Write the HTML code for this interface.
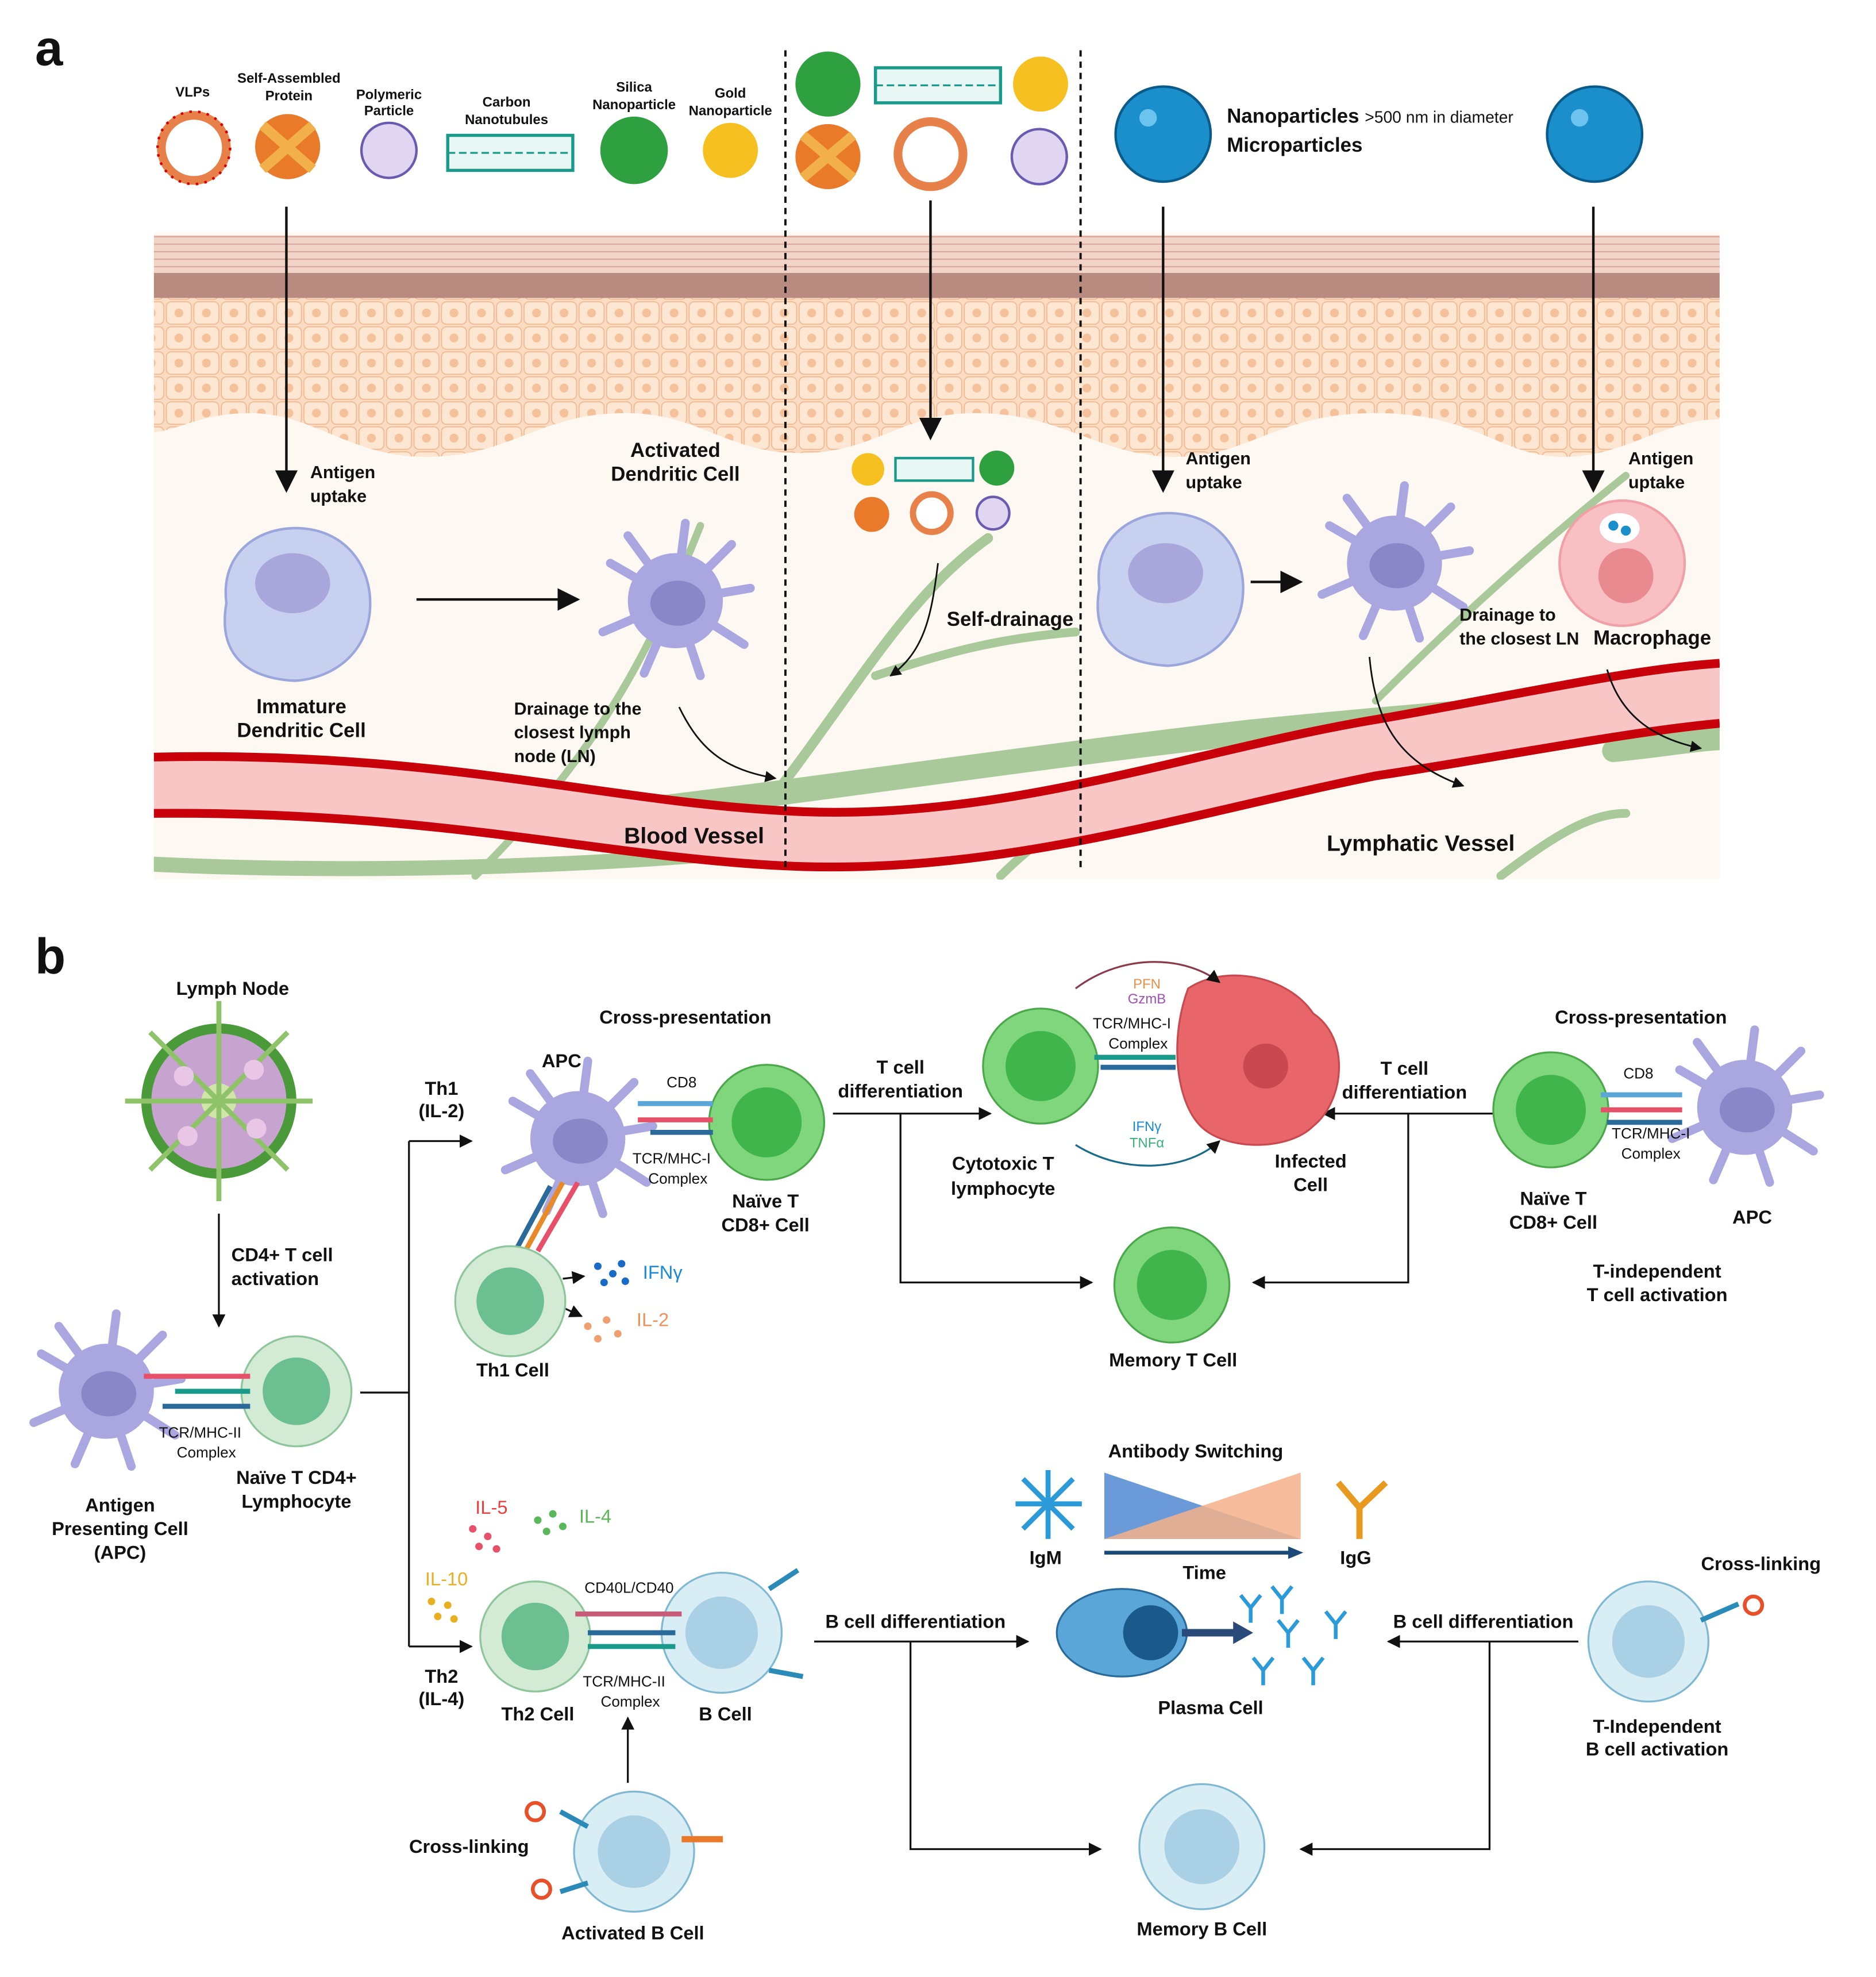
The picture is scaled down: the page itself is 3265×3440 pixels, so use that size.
<!DOCTYPE html>
<html><head><meta charset="utf-8"><style>
html,body{margin:0;padding:0;background:#fff;}
svg{display:block;}
text{font-family:"Liberation Sans",sans-serif;font-weight:bold;fill:#111;}
.n{font-weight:normal;}
</style></head><body>
<svg width="3265" height="3440" viewBox="0 0 1500 1580" xmlns="http://www.w3.org/2000/svg">
<defs>
<marker id="ar" viewBox="0 0 10 10" refX="9" refY="5" markerWidth="7" markerHeight="7" orient="auto"><path d="M0,0L10,5L0,10z" fill="#111"/></marker>
<marker id="as" viewBox="0 0 10 10" refX="9" refY="5" markerWidth="9" markerHeight="9" orient="auto"><path d="M0,0L10,5L0,10z" fill="#111"/></marker>
<clipPath id="pa"><rect x="123" y="185" width="1252" height="518"/></clipPath>
<pattern id="cells" width="22" height="20" patternUnits="userSpaceOnUse"><rect width="22" height="20" fill="#fbdcc2"/><rect x="1" y="1" width="20" height="18" rx="4" fill="#fde6d2" stroke="#f0b890" stroke-width="0.8"/><circle cx="11" cy="10" r="3.5" fill="#f5c19a"/></pattern>
<pattern id="strip" width="30" height="6" patternUnits="userSpaceOnUse"><rect width="30" height="6" fill="#f2d3c8"/><line x1="0" y1="3" x2="30" y2="3" stroke="#d9a89a" stroke-width="1"/></pattern>
<g id="dc"><g stroke="#a9a6e0" stroke-width="7" stroke-linecap="round"><line x1="0" y1="0" x2="-52" y2="-30"/><line x1="0" y1="0" x2="-38" y2="-52"/><line x1="0" y1="0" x2="8" y2="-62"/><line x1="0" y1="0" x2="45" y2="-45"/><line x1="0" y1="0" x2="60" y2="-10"/><line x1="0" y1="0" x2="55" y2="35"/><line x1="0" y1="0" x2="20" y2="60"/><line x1="0" y1="0" x2="-25" y2="58"/><line x1="0" y1="0" x2="-58" y2="25"/></g><circle r="38" fill="#a9a6e0"/><ellipse cx="2" cy="2" rx="22" ry="18" fill="#8a86c8"/></g>
<g id="tc"><circle r="46" fill="#7fd67c" stroke="#4aa84a" stroke-width="1.5"/><circle r="28" fill="#3fb54c"/></g>
<g id="lt"><circle r="44" fill="#d3ead5" stroke="#8fc59a" stroke-width="1.5"/><circle r="27" fill="#6cbf90"/></g>
<g id="bc"><circle r="48" fill="#d9edf5" stroke="#7fb8d2" stroke-width="1.5"/><circle r="29" fill="#a9d0e4"/></g>
<g id="ab"><path d="M0,12 V0 L-8,-10 M0,0 L8,-10" stroke="#2a9ad8" stroke-width="3" fill="none"/></g>
</defs>

<text x="28" y="52" font-size="40">a</text>
<text x="28" y="778" font-size="40">b</text>

<g clip-path="url(#pa)">
<rect x="123" y="185" width="1252" height="518" fill="#fdf8f2"/>
<rect x="123" y="188" width="1252" height="30" fill="url(#strip)"/>
<rect x="123" y="218" width="1252" height="20" fill="#b88a80"/>
<path d="M123,238 H1375 V335 C1330,335 1300,365 1250,365 C1200,365 1180,330 1100,330 C1020,330 1000,365 940,365 C880,365 850,330 780,330 C720,330 700,362 640,362 C580,362 560,330 500,330 C430,330 410,365 340,365 C280,365 250,330 200,330 C160,330 140,345 123,345Z" fill="url(#cells)"/>
<g stroke="#a9c99a" fill="none" stroke-linecap="round">
<path d="M380,700 C480,600 520,520 560,420" stroke-width="6"/>
<path d="M600,660 C680,560 720,480 790,430" stroke-width="8"/>
<path d="M400,660 C600,640 780,610 1000,585 C1200,565 1300,560 1375,560" stroke-width="20"/>
<path d="M700,540 C760,520 800,510 860,505" stroke-width="7"/>
<path d="M1100,560 C1180,480 1250,420 1300,380" stroke-width="6"/>
<path d="M800,700 C830,670 860,650 900,640" stroke-width="7"/>
<path d="M1200,700 C1240,670 1270,650 1300,650" stroke-width="7"/>
<path d="M110,690 C300,700 500,690 600,680" stroke-width="12"/>
<path d="M1290,600 C1340,595 1360,590 1390,590" stroke-width="18"/>
</g>
<path d="M123,605 C350,600 480,640 628,648 C800,658 950,600 1100,575 C1200,558 1300,535 1375,530 L1375,578 C1300,585 1200,605 1100,620 C950,650 800,700 628,692 C480,685 350,648 123,650Z" fill="#f9c6c6"/>
<path d="M123,605 C350,600 480,640 628,648 C800,658 950,600 1100,575 C1200,558 1300,535 1375,530" fill="none" stroke="#c8000a" stroke-width="7"/>
<path d="M123,650 C350,648 480,685 628,692 C800,700 950,650 1100,620 C1200,605 1300,585 1375,578" fill="none" stroke="#c8000a" stroke-width="7"/>
</g>

<line x1="628" y1="40" x2="628" y2="696" stroke="#111" stroke-width="1.8" stroke-dasharray="5,4"/>
<line x1="864" y1="40" x2="864" y2="696" stroke="#111" stroke-width="1.8" stroke-dasharray="5,4"/>

<circle cx="155" cy="118" r="26" fill="#fff" stroke="#e8804a" stroke-width="7"/>
<circle cx="155" cy="118" r="29" fill="none" stroke="#d40000" stroke-width="2" stroke-dasharray="2,5"/>
<circle cx="230" cy="117" r="26" fill="#e87a2a"/><path d="M210,100 L250,135 M250,100 L210,135" stroke="#f2b04a" stroke-width="8"/>
<circle cx="311" cy="120" r="22" fill="#e0d6f2" stroke="#6a5ab0" stroke-width="2"/>
<rect x="358" y="108" width="100" height="28" fill="#e8f6f4" stroke="#1a9a8a" stroke-width="2.5"/><line x1="358" y1="122" x2="458" y2="122" stroke="#1a9a8a" stroke-width="1.5" stroke-dasharray="6,3"/>
<circle cx="507" cy="120" r="27" fill="#2fa040"/>
<circle cx="584" cy="120" r="22" fill="#f5c020"/>
<circle cx="662" cy="67" r="26" fill="#2fa040"/>
<rect x="700" y="54" width="100" height="28" fill="#e8f6f4" stroke="#1a9a8a" stroke-width="2.5"/><line x1="700" y1="68" x2="800" y2="68" stroke="#1a9a8a" stroke-width="1.5" stroke-dasharray="6,3"/>
<circle cx="832" cy="67" r="22" fill="#f5c020"/>
<circle cx="662" cy="125" r="26" fill="#e87a2a"/><path d="M642,108 L682,142 M682,108 L642,142" stroke="#f2b04a" stroke-width="8"/>
<circle cx="744" cy="123" r="26" fill="#fff" stroke="#e8804a" stroke-width="7"/>
<circle cx="831" cy="125" r="22" fill="#e0d6f2" stroke="#6a5ab0" stroke-width="2"/>
<g font-size="11"><text x="154" y="77" text-anchor="middle">VLPs</text>
<text x="231" y="66" text-anchor="middle">Self-Assembled</text><text x="231" y="80" text-anchor="middle">Protein</text>
<text x="311" y="79" text-anchor="middle">Polymeric</text><text x="311" y="92" text-anchor="middle">Particle</text>
<text x="405" y="85" text-anchor="middle">Carbon</text><text x="405" y="99" text-anchor="middle">Nanotubules</text>
<text x="507" y="73" text-anchor="middle">Silica</text><text x="507" y="87" text-anchor="middle">Nanoparticle</text>
<text x="584" y="78" text-anchor="middle">Gold</text><text x="584" y="92" text-anchor="middle">Nanoparticle</text></g>
<circle cx="930" cy="107" r="38" fill="#1a8fcc" stroke="#0a5a8a" stroke-width="2"/><circle cx="918" cy="94" r="7" fill="#6cc4ee"/>
<circle cx="1275" cy="107" r="38" fill="#1a8fcc" stroke="#0a5a8a" stroke-width="2"/><circle cx="1263" cy="94" r="7" fill="#6cc4ee"/>
<text x="981" y="98" font-size="16">Nanoparticles <tspan font-size="13" font-weight="normal">&gt;500 nm in diameter</tspan></text>
<text x="981" y="121" font-size="16">Microparticles</text>

<g stroke="#111" stroke-width="2" marker-end="url(#as)">
<line x1="229" y1="165" x2="229" y2="392"/><line x1="744" y1="160" x2="744" y2="350"/>
<line x1="930" y1="165" x2="930" y2="392"/><line x1="1274" y1="165" x2="1274" y2="392"/>
<line x1="333" y1="479" x2="462" y2="479"/><line x1="1000" y1="465" x2="1040" y2="465"/>
</g>
<g stroke="#111" stroke-width="1.3" fill="none" marker-end="url(#ar)">
<path d="M543,565 C560,600 580,615 620,622"/><path d="M750,450 C745,490 740,520 712,540"/>
<path d="M1095,525 C1100,580 1120,610 1170,628"/><path d="M1285,535 C1295,570 1320,590 1360,598"/>
</g>
<g transform="translate(236,482)"><path d="M-55,0 C-60,-40 -30,-60 0,-60 C40,-60 60,-30 60,0 C60,40 30,60 0,62 C-40,60 -62,40 -55,0Z" fill="#c8d0f0" stroke="#9aa6dc" stroke-width="2"/><ellipse cx="-2" cy="-16" rx="30" ry="24" fill="#a9a6dc"/></g>
<use href="#dc" x="540" y="480"/>
<g transform="translate(934,470)"><path d="M-55,0 C-60,-40 -30,-60 0,-60 C40,-60 60,-30 60,0 C60,40 30,60 0,62 C-40,60 -62,40 -55,0Z" fill="#c8d0f0" stroke="#9aa6dc" stroke-width="2"/><ellipse cx="-2" cy="-12" rx="30" ry="24" fill="#a9a6dc"/></g>
<use href="#dc" x="1115" y="450"/>
<circle cx="1297" cy="450" r="50" fill="#f9c0c4" stroke="#f0a0a6" stroke-width="2"/><circle cx="1300" cy="460" r="22" fill="#e88a90"/><ellipse cx="1295" cy="422" rx="16" ry="12" fill="#fff"/><circle cx="1290" cy="420" r="4" fill="#1a8fcc"/><circle cx="1300" cy="424" r="4" fill="#1a8fcc"/>
<g font-size="14"><text x="248" y="382">Antigen</text><text x="248" y="401">uptake</text>
<text x="540" y="365" text-anchor="middle" font-size="16">Activated</text><text x="540" y="384" text-anchor="middle" font-size="16">Dendritic Cell</text>
<text x="241" y="570" text-anchor="middle" font-size="16">Immature</text><text x="241" y="589" text-anchor="middle" font-size="16">Dendritic Cell</text>
<text x="411" y="571">Drainage to the</text><text x="411" y="590">closest lymph</text><text x="411" y="609">node (LN)</text>
<text x="757" y="500" font-size="16">Self-drainage</text>
<text x="948" y="371">Antigen</text><text x="948" y="390">uptake</text>
<text x="1302" y="371">Antigen</text><text x="1302" y="390">uptake</text>
<text x="1167" y="496">Drainage to</text><text x="1167" y="515">the closest LN</text>
<text x="1274" y="515" font-size="16">Macrophage</text>
<text x="555" y="674" text-anchor="middle" font-size="18">Blood Vessel</text>
<text x="1136" y="680" text-anchor="middle" font-size="18">Lymphatic Vessel</text></g>
<circle cx="694" cy="375" r="13" fill="#f5c020"/><rect x="716" y="366" width="62" height="18" fill="#e8f6f4" stroke="#1a9a8a" stroke-width="2"/><circle cx="797" cy="374" r="14" fill="#2fa040"/>
<circle cx="697" cy="411" r="14" fill="#e87a2a"/><circle cx="745" cy="410" r="15" fill="#fff" stroke="#e8804a" stroke-width="5"/><circle cx="794" cy="410" r="13" fill="#e0d6f2" stroke="#6a5ab0" stroke-width="2"/>

<!-- ===== panel b ===== -->
<g transform="translate(175,880)"><circle r="62" fill="#4a9a3a"/><circle r="54" fill="#c7a4cf"/><circle r="14" fill="#cfe6a8"/>
<g stroke="#8fc36a" stroke-width="4"><line x1="-75" y1="0" x2="75" y2="0"/><line x1="0" y1="-80" x2="0" y2="80"/><line x1="-55" y1="-55" x2="55" y2="55"/><line x1="55" y1="-55" x2="-55" y2="55"/></g>
<circle cx="-28" cy="-20" r="8" fill="#e9c6e6"/><circle cx="28" cy="-25" r="8" fill="#e9c6e6"/><circle cx="30" cy="22" r="8" fill="#e9c6e6"/><circle cx="-25" cy="28" r="8" fill="#e9c6e6"/></g>
<text x="186" y="795" text-anchor="middle" font-size="15">Lymph Node</text>
<line x1="175" y1="970" x2="175" y2="1060" stroke="#111" stroke-width="1.5" marker-end="url(#ar)"/>
<text x="185" y="1008" font-size="15">CD4+ T cell</text><text x="185" y="1027" font-size="15">activation</text>
<use href="#dc" x="85" y="1112"/>
<use href="#lt" x="237" y="1112"/>
<g stroke-width="4"><line x1="115" y1="1100" x2="200" y2="1100" stroke="#e8506a"/><line x1="140" y1="1112" x2="200" y2="1112" stroke="#1a9a8a"/><line x1="130" y1="1124" x2="200" y2="1124" stroke="#2a6a9a"/></g>
<text x="160" y="1149" text-anchor="middle" font-size="12" class="n">TCR/MHC-II</text><text x="165" y="1165" text-anchor="middle" font-size="12" class="n">Complex</text>
<text x="96" y="1208" text-anchor="middle" font-size="15">Antigen</text><text x="96" y="1227" text-anchor="middle" font-size="15">Presenting Cell</text><text x="96" y="1246" text-anchor="middle" font-size="15">(APC)</text>
<text x="237" y="1186" text-anchor="middle" font-size="15">Naïve T CD4+</text><text x="237" y="1205" text-anchor="middle" font-size="15">Lymphocyte</text>
<g stroke="#111" stroke-width="1.5" fill="none">
<line x1="288" y1="1113" x2="327" y2="1113"/><line x1="327" y1="912" x2="327" y2="1316"/>
<line x1="327" y1="912" x2="377" y2="912" marker-end="url(#ar)"/><line x1="327" y1="1316" x2="377" y2="1316" marker-end="url(#ar)"/>
<line x1="666" y1="890" x2="792" y2="890" marker-end="url(#ar)"/><polyline points="720,890 720,1025 873,1025" marker-end="url(#ar)"/>
<line x1="1196" y1="890" x2="1058" y2="890" marker-end="url(#ar)"/><polyline points="1126,890 1126,1025 1002,1025" marker-end="url(#ar)"/>
<line x1="651" y1="1312" x2="822" y2="1312" marker-end="url(#ar)"/><polyline points="728,1312 728,1478 880,1478" marker-end="url(#ar)"/>
<line x1="1262" y1="1312" x2="1110" y2="1312" marker-end="url(#ar)"/><polyline points="1191,1312 1191,1478 1040,1478" marker-end="url(#ar)"/>
<line x1="502" y1="1425" x2="502" y2="1373" marker-end="url(#ar)"/>
<line x1="450" y1="1022" x2="467" y2="1020" marker-end="url(#ar)"/><line x1="450" y1="1045" x2="465" y2="1052" marker-end="url(#ar)"/>
</g>
<text x="353" y="875" text-anchor="middle" font-size="15">Th1</text><text x="353" y="893" text-anchor="middle" font-size="15">(IL-2)</text>
<text x="353" y="1345" text-anchor="middle" font-size="15">Th2</text><text x="353" y="1363" text-anchor="middle" font-size="15">(IL-4)</text>
<use href="#dc" x="462" y="910"/>
<use href="#tc" x="613" y="897"/>
<g stroke-width="4"><line x1="510" y1="882" x2="570" y2="882" stroke="#5aa6d8"/><line x1="510" y1="895" x2="570" y2="895" stroke="#e8506a"/><line x1="520" y1="905" x2="570" y2="905" stroke="#2a6a9a"/><line x1="462" y1="945" x2="430" y2="1000" stroke="#e8506a"/><line x1="450" y1="945" x2="420" y2="1000" stroke="#e88a2a"/><line x1="440" y1="948" x2="412" y2="1000" stroke="#2a6a9a"/></g>
<use href="#lt" x="408" y="1040"/>
<g fill="#1a6ac8"><circle cx="478" cy="1012" r="3"/><circle cx="490" cy="1018" r="3"/><circle cx="483" cy="1025" r="3"/><circle cx="497" cy="1010" r="3"/><circle cx="500" cy="1024" r="3"/></g>
<g fill="#f0a070"><circle cx="470" cy="1060" r="3"/><circle cx="485" cy="1055" r="3"/><circle cx="478" cy="1070" r="3"/><circle cx="494" cy="1066" r="3"/></g>
<text x="548" y="818" text-anchor="middle" font-size="15">Cross-presentation</text>
<text x="449" y="853" text-anchor="middle" font-size="15">APC</text>
<text x="545" y="869" text-anchor="middle" font-size="12" class="n">CD8</text>
<text x="537" y="930" text-anchor="middle" font-size="12" class="n">TCR/MHC-I</text><text x="542" y="946" text-anchor="middle" font-size="12" class="n">Complex</text>
<text x="612" y="965" text-anchor="middle" font-size="15">Naïve T</text><text x="612" y="984" text-anchor="middle" font-size="15">CD8+ Cell</text>
<text x="410" y="1100" text-anchor="middle" font-size="15">Th1 Cell</text>
<text x="514" y="1022" font-size="15" class="n" style="fill:#1a8ad8">IFNγ</text>
<text x="509" y="1060" font-size="15" class="n" style="fill:#f0905a">IL-2</text>
<text x="720" y="858" text-anchor="middle" font-size="15">T cell</text><text x="720" y="877" text-anchor="middle" font-size="15">differentiation</text>
<text x="1123" y="859" text-anchor="middle" font-size="15">T cell</text><text x="1123" y="878" text-anchor="middle" font-size="15">differentiation</text>
<use href="#tc" x="832" y="852"/>
<path d="M950,790 C980,770 1030,780 1050,810 C1080,830 1075,880 1050,900 C1030,920 980,920 960,900 C940,880 935,830 950,790Z" fill="#e8666a" stroke="#c84a50" stroke-width="1.5"/>
<circle cx="1012" cy="852" r="18" fill="#c84a50"/>
<g stroke-width="4"><line x1="875" y1="845" x2="940" y2="845" stroke="#1a9a8a"/><line x1="880" y1="853" x2="940" y2="853" stroke="#2a6a9a"/></g>
<path d="M860,790 C900,760 950,765 975,785" fill="none" stroke="#8a3a4a" stroke-width="1.5" marker-end="url(#ar)"/>
<path d="M860,915 C900,940 950,935 975,912" fill="none" stroke="#1a6a8a" stroke-width="1.5" marker-end="url(#ar)"/>
<text x="917" y="790" text-anchor="middle" font-size="11" class="n" style="fill:#e8904a">PFN</text><text x="917" y="802" text-anchor="middle" font-size="11" class="n" style="fill:#a050b0">GzmB</text>
<text x="905" y="822" text-anchor="middle" font-size="12" class="n">TCR/MHC-I</text><text x="910" y="838" text-anchor="middle" font-size="12" class="n">Complex</text>
<text x="917" y="904" text-anchor="middle" font-size="11" class="n" style="fill:#1a8ad8">IFNγ</text><text x="917" y="917" text-anchor="middle" font-size="11" class="n" style="fill:#3ab07a">TNFα</text>
<text x="802" y="935" text-anchor="middle" font-size="15">Cytotoxic T</text><text x="802" y="955" text-anchor="middle" font-size="15">lymphocyte</text>
<text x="1048" y="933" text-anchor="middle" font-size="15">Infected</text><text x="1048" y="952" text-anchor="middle" font-size="15">Cell</text>
<use href="#tc" x="937" y="1027"/>
<text x="938" y="1092" text-anchor="middle" font-size="15">Memory T Cell</text>
<use href="#tc" x="1240" y="887"/>
<use href="#dc" x="1395" y="885"/>
<g stroke-width="4"><line x1="1280" y1="875" x2="1345" y2="875" stroke="#5aa6d8"/><line x1="1280" y1="887" x2="1345" y2="887" stroke="#e8506a"/><line x1="1285" y1="897" x2="1345" y2="897" stroke="#2a6a9a"/></g>
<text x="1312" y="818" text-anchor="middle" font-size="15">Cross-presentation</text>
<text x="1310" y="862" text-anchor="middle" font-size="12" class="n">CD8</text>
<text x="1320" y="910" text-anchor="middle" font-size="12" class="n">TCR/MHC-I</text><text x="1320" y="926" text-anchor="middle" font-size="12" class="n">Complex</text>
<text x="1242" y="963" text-anchor="middle" font-size="15">Naïve T</text><text x="1242" y="982" text-anchor="middle" font-size="15">CD8+ Cell</text>
<text x="1401" y="978" text-anchor="middle" font-size="15">APC</text>
<text x="1325" y="1021" text-anchor="middle" font-size="15">T-independent</text><text x="1325" y="1040" text-anchor="middle" font-size="15">T cell activation</text>
<polygon points="883,1177 883,1230 1040,1230" fill="#6a9ad8"/>
<polygon points="883,1230 1040,1177 1040,1230" fill="#f5b08a" opacity="0.85"/>
<line x1="883" y1="1241" x2="1030" y2="1241" stroke="#1a4a7a" stroke-width="3"/><polygon points="1030,1236 1042,1241 1030,1246" fill="#1a4a7a"/>
<text x="956" y="1165" text-anchor="middle" font-size="15">Antibody Switching</text>
<text x="963" y="1262" text-anchor="middle" font-size="15">Time</text>
<text x="836" y="1250" text-anchor="middle" font-size="15">IgM</text><text x="1084" y="1250" text-anchor="middle" font-size="15">IgG</text>
<g stroke="#2a9ad8" stroke-width="4"><line x1="838" y1="1175" x2="838" y2="1230"/><line x1="812" y1="1202" x2="865" y2="1202"/><line x1="818" y1="1182" x2="858" y2="1222"/><line x1="858" y1="1182" x2="818" y2="1222"/></g>
<g stroke="#e89a20" stroke-width="5"><line x1="1087" y1="1205" x2="1087" y2="1230"/><line x1="1087" y1="1205" x2="1070" y2="1185"/><line x1="1087" y1="1205" x2="1108" y2="1185"/></g>
<use href="#lt" x="428" y="1308"/>
<use href="#bc" x="577" y="1305"/>
<g stroke-width="4"><line x1="460" y1="1290" x2="545" y2="1290" stroke="#c85a7a"/><line x1="470" y1="1305" x2="540" y2="1305" stroke="#2a6a9a"/><line x1="470" y1="1316" x2="540" y2="1316" stroke="#1a9a8a"/></g>
<g stroke="#2a8ab8" stroke-width="4"><line x1="615" y1="1270" x2="638" y2="1255"/><line x1="615" y1="1335" x2="642" y2="1340"/></g>
<g fill="#e8506a"><circle cx="378" cy="1222" r="3"/><circle cx="390" cy="1228" r="3"/><circle cx="383" cy="1236" r="3"/><circle cx="397" cy="1238" r="3"/></g>
<g fill="#5ab85a"><circle cx="430" cy="1215" r="3"/><circle cx="442" cy="1210" r="3"/><circle cx="437" cy="1224" r="3"/><circle cx="450" cy="1220" r="3"/></g>
<g fill="#e8b020"><circle cx="345" cy="1280" r="3"/><circle cx="358" cy="1283" r="3"/><circle cx="350" cy="1292" r="3"/><circle cx="363" cy="1294" r="3"/></g>
<text x="393" y="1210" text-anchor="middle" font-size="15" class="n" style="fill:#e84040">IL-5</text>
<text x="476" y="1217" text-anchor="middle" font-size="15" class="n" style="fill:#5ab85a">IL-4</text>
<text x="357" y="1267" text-anchor="middle" font-size="15" class="n" style="fill:#e8b020">IL-10</text>
<text x="503" y="1273" text-anchor="middle" font-size="12" class="n">CD40L/CD40</text>
<text x="499" y="1348" text-anchor="middle" font-size="12" class="n">TCR/MHC-II</text><text x="504" y="1364" text-anchor="middle" font-size="12" class="n">Complex</text>
<text x="430" y="1375" text-anchor="middle" font-size="15">Th2 Cell</text><text x="580" y="1375" text-anchor="middle" font-size="15">B Cell</text>
<text x="732" y="1301" text-anchor="middle" font-size="15">B cell differentiation</text>
<text x="1186" y="1301" text-anchor="middle" font-size="15">B cell differentiation</text>
<ellipse cx="897" cy="1305" rx="52" ry="35" fill="#5aa6d8" stroke="#2a6a9a" stroke-width="1.5"/><circle cx="920" cy="1305" r="22" fill="#1a5a8a"/>
<line x1="945" y1="1305" x2="988" y2="1305" stroke="#2a4a7a" stroke-width="6"/><polygon points="986,1296 1002,1305 986,1314" fill="#2a4a7a"/>
<use href="#ab" x="1000" y="1285"/><use href="#ab" x="1030" y="1305"/><use href="#ab" x="1068" y="1298"/><use href="#ab" x="1010" y="1335"/><use href="#ab" x="1050" y="1335"/><use href="#ab" x="1025" y="1278"/>
<text x="968" y="1370" text-anchor="middle" font-size="15">Plasma Cell</text>
<use href="#bc" x="1318" y="1312"/>
<line x1="1360" y1="1295" x2="1390" y2="1282" stroke="#2a8ab8" stroke-width="4"/><circle cx="1402" cy="1283" r="7" fill="none" stroke="#e8502a" stroke-width="3"/>
<text x="1408" y="1255" text-anchor="middle" font-size="15">Cross-linking</text>
<text x="1325" y="1385" text-anchor="middle" font-size="15">T-Independent</text><text x="1325" y="1403" text-anchor="middle" font-size="15">B cell activation</text>
<use href="#bc" x="507" y="1480"/>
<line x1="470" y1="1460" x2="448" y2="1448" stroke="#2a8ab8" stroke-width="4"/><circle cx="428" cy="1448" r="7" fill="none" stroke="#e8502a" stroke-width="3"/>
<line x1="470" y1="1505" x2="448" y2="1512" stroke="#2a8ab8" stroke-width="4"/><circle cx="433" cy="1510" r="7" fill="none" stroke="#e8502a" stroke-width="3"/>
<line x1="545" y1="1470" x2="578" y2="1470" stroke="#e87a2a" stroke-width="5"/>
<text x="375" y="1481" text-anchor="middle" font-size="15">Cross-linking</text>
<text x="506" y="1550" text-anchor="middle" font-size="15">Activated B Cell</text>
<g transform="translate(961,1476)"><circle r="50" fill="#d9edf5" stroke="#7fb8d2" stroke-width="1.5"/><circle r="30" fill="#a9d0e4"/></g>
<text x="961" y="1547" text-anchor="middle" font-size="15">Memory B Cell</text>
</svg>
</body></html>
